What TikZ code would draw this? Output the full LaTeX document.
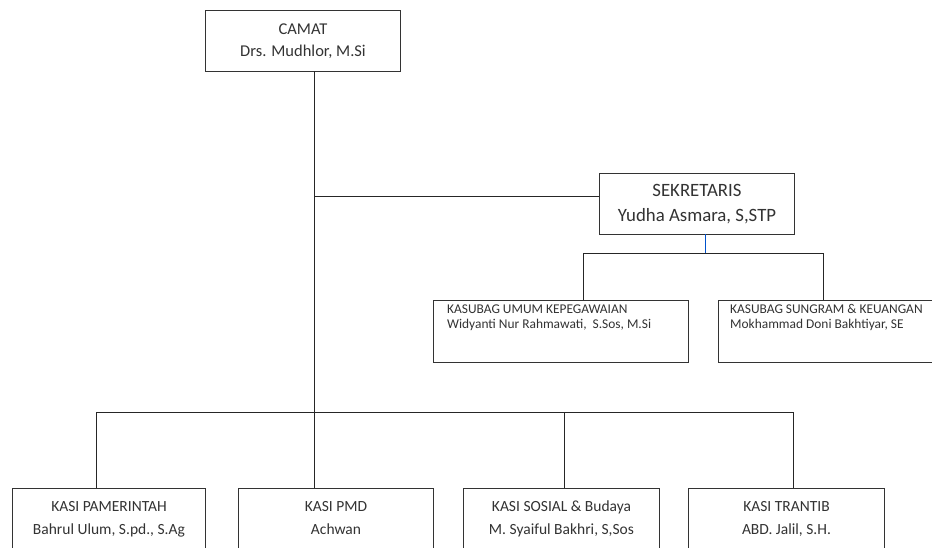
\documentclass[tikz,border=0pt]{standalone}
\usepackage{fontspec}
\setmainfont{Carlito}
\begin{document}
\begin{tikzpicture}[x=1pt,y=-1pt,
  box/.style={draw=black!80,line width=1pt,rectangle,inner sep=0pt,anchor=north west},
  conn/.style={draw=black!85,line width=1pt},
  bconn/.style={draw=blue!60!cyan!80!black,line width=0.9pt},
  txt/.style={text=black!80,inner sep=0pt},
]
\useasboundingbox (0,0) rectangle (932,547);
\fill[white] (0,0) rectangle (932,547);
\clip (0,0) rectangle (932,547);

% top boxes
\node[box,minimum width=195pt,minimum height=61pt,align=center,text=black!80,
  font=\fontsize{16.5}{22}\selectfont] (camat) at (205,10) {CAMAT\\Drs. Mudhlor, M.Si};
\node[box,minimum width=195pt,minimum height=61pt,align=center,text=black!80,
  font=\fontsize{18.8}{25}\selectfont] (sek) at (599,173) {SEKRETARIS\\Yudha Asmara, S,STP};

% kasubag boxes
\node[box,minimum width=255pt,minimum height=62pt] (umum) at (433,300) {};
\node[box,minimum width=240pt,minimum height=62pt] (sung) at (718,300) {};
\node[txt,anchor=north west,align=left,font=\fontsize{13.4}{15}\selectfont]
  (umumt) at ([xshift=14pt,yshift=-4.5pt]umum.north west)
  {KASUBAG UMUM KEPEGAWAIAN\\Widyanti Nur Rahmawati,\ \ S.Sos, M.Si};
\node[txt,anchor=north west,align=left,font=\fontsize{13.4}{15}\selectfont]
  (sungt) at ([xshift=12pt,yshift=-4.5pt]sung.north west)
  {KASUBAG SUNGRAM \& KEUANGAN\\Mokhammad Doni Bakhtiyar, SE};

% bottom boxes
\node[box,minimum width=193pt,minimum height=90pt] (pam) at (12,488) {};
\node[box,minimum width=195pt,minimum height=90pt] (pmd) at (238,488) {};
\node[box,minimum width=196pt,minimum height=90pt] (sos) at (463,488) {};
\node[box,minimum width=196pt,minimum height=90pt] (tran) at (688,488) {};
\foreach \b/\l/\m in {pam/KASI PAMERINTAH/{Bahrul Ulum, S.pd., S.Ag},
                     pmd/KASI PMD/Achwan,
                     sos/KASI SOSIAL \& Budaya/{M. Syaiful Bakhri, S,Sos},
                     tran/KASI TRANTIB/{ABD. Jalil, S.H.}}{
  \node[txt,anchor=north,align=center,font=\fontsize{15.5}{23}\selectfont]
    (\b t) at ([yshift=-13pt]\b.north) {\l\\\m};
}

% connector points
\coordinate (t0) at (314,71);
\coordinate (s0) at (314,196.5);
\coordinate (k0) at (705,234);
\coordinate (k1) at (583,253);
\coordinate (k2) at (823,253);
\coordinate (b1) at (96,412);
\coordinate (b2) at (314,412);
\coordinate (b3) at (564,412);
\coordinate (b4) at (793,412);

\draw[conn] (t0) -- (t0 |- pmd.north);
\draw[conn] (s0) -- (s0 -| sek.west);
\draw[bconn] (k0) -- (k0 |- k1);
\draw[conn] (k1) -- (k2);
\draw[conn] (k1) -- (k1 |- umum.north);
\draw[conn] (k2) -- (k2 |- sung.north);
\draw[conn] (b1) -- (b4);
\draw[conn] (b1) -- (b1 |- pam.north);
\draw[conn] (b3) -- (b3 |- sos.north);
\draw[conn] (b4) -- (b4 |- tran.north);
\end{tikzpicture}
\end{document}
